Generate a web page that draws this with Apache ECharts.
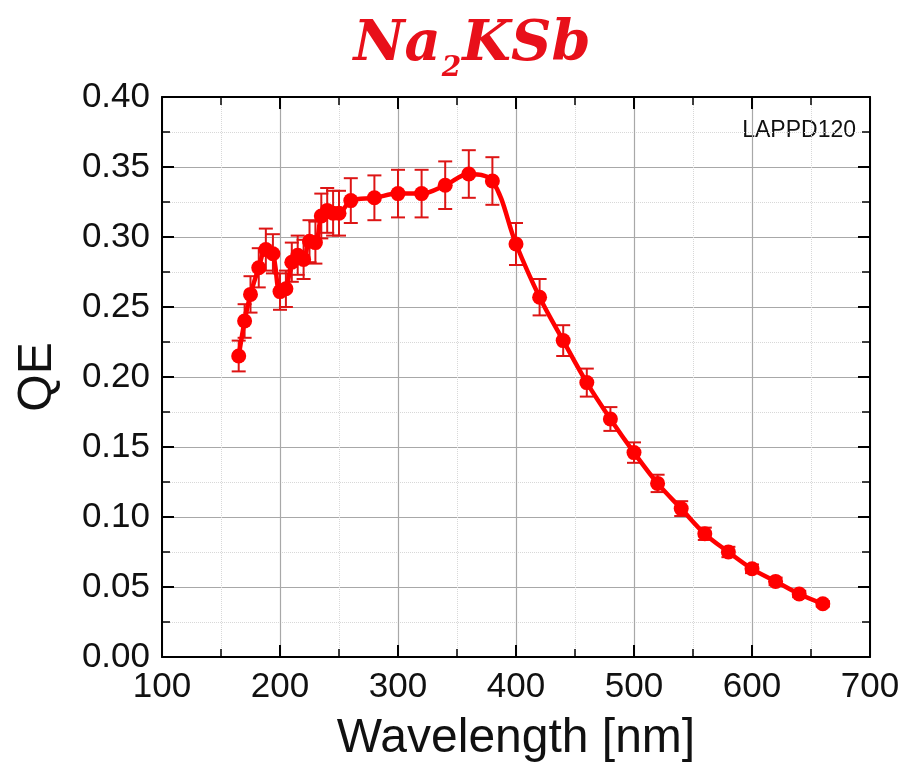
<!DOCTYPE html>
<html>
<head>
<meta charset="utf-8">
<script src="https://cdn.jsdelivr.net/npm/echarts@6/dist/echarts.min.js"></script>
<style>
  html, body { margin: 0; padding: 0; background: #fff; }
  #chart { width: 906px; height: 762px; }
</style>
</head>
<body>
<div id="chart"></div>
<script>
// Quantum efficiency of the Na2KSb photocathode (LAPPD120) versus wavelength
const wavelength = [165, 170, 175, 182, 188, 194, 200, 205, 210, 215, 220, 225, 230, 235, 240, 245, 250, 260, 280,
  300, 320, 340, 360, 380, 400, 420, 440, 460, 480, 500, 520, 540, 560, 580, 600, 620, 640, 660];
const qe = [0.215, 0.240, 0.259, 0.278, 0.291, 0.288, 0.261, 0.263, 0.282, 0.287, 0.284, 0.297, 0.296, 0.315, 0.319,
  0.317, 0.317, 0.326, 0.328, 0.331, 0.331, 0.337, 0.345, 0.340, 0.295, 0.257, 0.226, 0.196, 0.170, 0.146, 0.124,
  0.106, 0.088, 0.075, 0.063, 0.054, 0.045, 0.038];
const qeErr = [0.011, 0.012, 0.013, 0.014, 0.015, 0.014, 0.013, 0.013, 0.014, 0.014, 0.014, 0.015, 0.015, 0.016,
  0.016, 0.016, 0.016, 0.016, 0.016, 0.017, 0.017, 0.017, 0.017, 0.017, 0.015, 0.013, 0.011, 0.010, 0.0085, 0.0073,
  0.0062, 0.0053, 0.0044, 0.0037, 0.0031, 0.0027, 0.0023, 0.0019];
const xTicks = [100, 200, 300, 400, 500, 600, 700];
const yTicks = [0.00, 0.05, 0.10, 0.15, 0.20, 0.25, 0.30, 0.35, 0.40];

const RED = '#ff0000';
const BAR_RED = '#dd1515';
const TITLE_RED = '#e8101a';
const SANS = '"Liberation Sans", Arial, sans-serif';
const SERIF = '"DejaVu Serif", "Liberation Serif", serif';

const points = wavelength.map((w, i) => [w, qe[i]]);
const bars = wavelength.map((w, i) => [w, qe[i] - qeErr[i], qe[i] + qeErr[i]]);

const frameAxis = {
  axisLine: { show: true, onZero: false, lineStyle: { color: '#000', width: 2 } },
  axisTick: { show: true, inside: true, length: 12, lineStyle: { color: '#000', width: 2 } },
  minorTick: { show: true, splitNumber: 2, length: 8, lineStyle: { color: '#000', width: 1.5 } }
};

const chart = echarts.init(document.getElementById('chart'), null, { renderer: 'canvas' });
chart.setOption({
  animation: false,
  backgroundColor: '#ffffff',
  title: {
    text: '{a|Na}{s|2}{a|KSb}',
    left: 467, top: 2, textAlign: 'center',
    textStyle: {
      rich: {
        a: { fontFamily: SERIF, fontStyle: 'italic', fontWeight: 'bold',
             fontSize: 56, color: TITLE_RED, verticalAlign: 'bottom', lineHeight: 66 },
        s: { fontFamily: SERIF, fontStyle: 'italic', fontWeight: 'bold',
             fontSize: 28, color: TITLE_RED, padding: [0, 1, -10, 1], verticalAlign: 'bottom', lineHeight: 66 }
      }
    }
  },
  graphic: [{
    type: 'text', right: 50, top: 119,
    style: { text: 'LAPPD120', fontFamily: SANS, fontSize: 23, fill: '#111' }
  }],
  grid: { left: 162, right: 36, top: 97, bottom: 105, containLabel: false, outerBoundsMode: 'none' },
  xAxis: [{
    type: 'value', min: xTicks[0], max: xTicks[xTicks.length - 1], interval: xTicks[1] - xTicks[0],
    position: 'bottom',
    name: 'Wavelength [nm]', nameLocation: 'middle', nameGap: 58,
    nameTextStyle: { fontFamily: SANS, fontSize: 48, color: '#111' },
    axisLabel: { fontFamily: SANS, fontSize: 35, color: '#111', margin: 13 },
    splitLine: { show: true, lineStyle: { color: '#a8a8a8', width: 1.2 } },
    minorSplitLine: { show: true, lineStyle: { color: '#d8d8d8', width: 1, type: 'dotted' } },
    ...frameAxis
  }, {
    type: 'value', min: xTicks[0], max: xTicks[xTicks.length - 1], interval: xTicks[1] - xTicks[0],
    position: 'top', axisLabel: { show: false }, splitLine: { show: false },
    ...frameAxis
  }],
  yAxis: [{
    type: 'value', min: yTicks[0], max: yTicks[yTicks.length - 1], interval: yTicks[1] - yTicks[0],
    position: 'left',
    name: 'QE', nameLocation: 'middle', nameGap: 100,
    nameTextStyle: { fontFamily: SANS, fontSize: 48, color: '#111' },
    axisLabel: { fontFamily: SANS, fontSize: 35, color: '#111', margin: 12,
                 formatter: v => v.toFixed(2) },
    splitLine: { show: true, lineStyle: { color: '#a8a8a8', width: 1.2 } },
    minorSplitLine: { show: true, lineStyle: { color: '#d8d8d8', width: 1, type: 'dotted' } },
    ...frameAxis
  }, {
    type: 'value', min: yTicks[0], max: yTicks[yTicks.length - 1], interval: yTicks[1] - yTicks[0],
    position: 'right', axisLabel: { show: false }, splitLine: { show: false },
    ...frameAxis
  }],
  series: [{
    type: 'custom',
    name: 'error',
    xAxisIndex: 0, yAxisIndex: 0,
    data: bars,
    z: 3,
    renderItem: function (params, api) {
      const x = api.value(0);
      const lo = api.coord([x, api.value(1)]);
      const hi = api.coord([x, api.value(2)]);
      const half = 7;
      const style = { stroke: BAR_RED, lineWidth: 2 };
      return {
        type: 'group',
        children: [
          { type: 'line', shape: { x1: lo[0], y1: lo[1], x2: hi[0], y2: hi[1] }, style },
          { type: 'line', shape: { x1: hi[0] - half, y1: hi[1], x2: hi[0] + half, y2: hi[1] }, style },
          { type: 'line', shape: { x1: lo[0] - half, y1: lo[1], x2: lo[0] + half, y2: lo[1] }, style }
        ]
      };
    }
  }, {
    type: 'line',
    name: 'QE',
    xAxisIndex: 0, yAxisIndex: 0,
    data: points,
    smooth: 0.35,
    symbol: 'circle',
    symbolSize: 15,
    z: 4,
    lineStyle: { color: RED, width: 4.5 },
    itemStyle: { color: RED, borderWidth: 0 }
  }]
});
</script>
</body>
</html>
